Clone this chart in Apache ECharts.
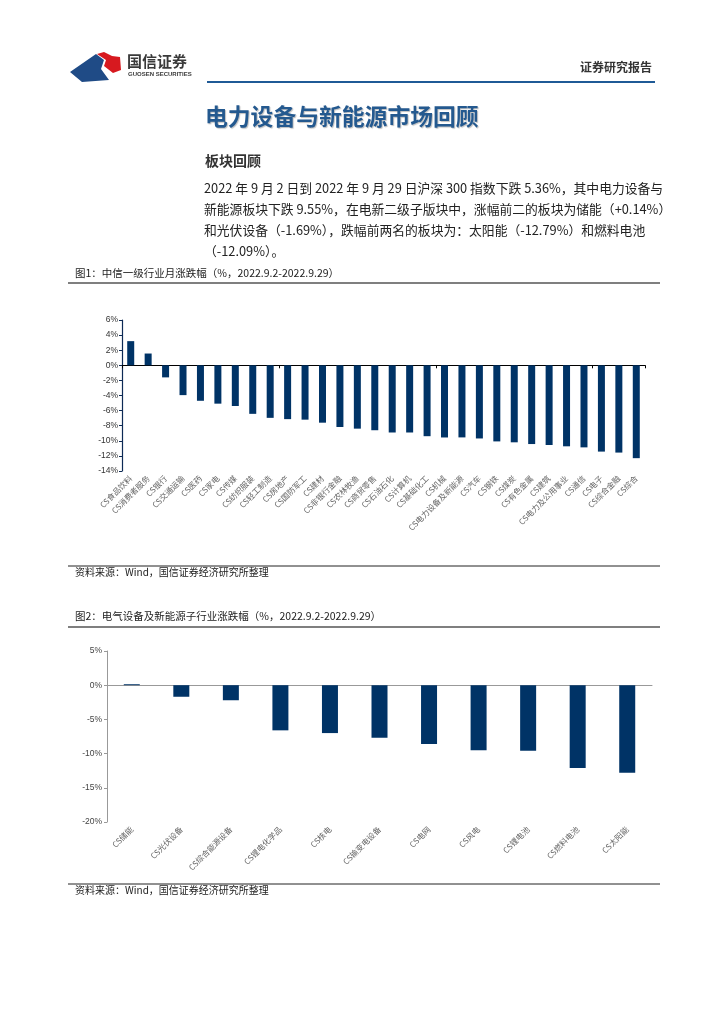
<!DOCTYPE html>
<html><head><meta charset="utf-8">
<script src="https://cdn.jsdelivr.net/npm/echarts@6/dist/echarts.min.js"></script>
<style>html,body{margin:0;padding:0;background:#fff}#c{width:724px;height:1024px}</style>
</head><body><div id="c"></div>
<script>
var cat1 = ['CS食品饮料','CS消费者服务','CS银行','CS交通运输','CS医药','CS家电','CS传媒','CS纺织服装','CS轻工制造','CS房地产','CS国防军工','CS建材','CS非银行金融','CS农林牧渔','CS商贸零售','CS石油石化','CS计算机','CS基础化工','CS机械','CS电力设备及新能源','CS汽车','CS钢铁','CS煤炭','CS有色金属','CS建筑','CS电力及公用事业','CS通信','CS电子','CS综合金融','CS综合'];
var val1 = [3.2,1.56,-1.6,-3.95,-4.7,-5.08,-5.39,-6.43,-6.96,-7.13,-7.2,-7.6,-8.17,-8.39,-8.6,-8.9,-8.9,-9.39,-9.56,-9.55,-9.69,-10.08,-10.2,-10.43,-10.56,-10.73,-10.87,-11.43,-11.56,-12.3];
var cat2 = ['CS储能','CS光伏设备','CS综合能源设备','CS锂电化学品','CS核电','CS输变电设备','CS电网','CS风电','CS锂电池','CS燃料电池','CS太阳能'];
var val2 = [0.14,-1.69,-2.2,-6.6,-7.0,-7.7,-8.6,-9.5,-9.6,-12.09,-12.79];
var ticks1 = {min:-14,max:6,interval:2};
var ticks2 = {min:-20,max:5,interval:5};

var CJK = '"Noto Sans CJK SC", sans-serif';
var chart = echarts.init(document.getElementById('c'), null, {renderer:'canvas'});
var paraLines = [
 '2022 年 9 月 2 日到 2022 年 9 月 29 日沪深 300 指数下跌 5.36%，其中电力设备与',
 '新能源板块下跌 9.55%，在电新二级子版块中，涨幅前二的板块为储能（+0.14%）',
 '和光伏设备（-1.69%），跌幅前两名的板块为：太阳能（-12.79%）和燃料电池',
 '（-12.09%）。'
];
var graphics = [];
// logo
graphics.push({type:'polygon',shape:{points:[[70,72],[96,54],[104,60],[101,69],[109,80],[82,82]]},style:{fill:'#1f4b86'}});
graphics.push({type:'polygon',shape:{points:[[97,54],[104,52],[112,56],[120,57],[121,70],[113,73],[104,66],[106,60]]},style:{fill:'#d7191f'}});
graphics.push({type:'text',left:127,top:54,style:{text:'国信证券',font:'bold 15px '+CJK,fill:'#3a3a3a'}});
graphics.push({type:'text',left:128,top:71,style:{text:'GUOSEN SECURITIES',font:'bold 6px "Liberation Sans", sans-serif',fill:'#3a3a3a'}});
graphics.push({type:'text',left:580,top:61,style:{text:'证券研究报告',font:'bold 12px '+CJK,fill:'#333'}});
graphics.push({type:'line',shape:{x1:207,y1:82,x2:655,y2:82},style:{stroke:'#1f5a96',lineWidth:2}});
// title
graphics.push({type:'text',left:205,top:105,style:{text:'电力设备与新能源市场回顾',font:'bold 22.8px '+CJK,fill:'#24598f',textShadowColor:'rgba(0,0,0,0.25)',textShadowBlur:1,textShadowOffsetX:1,textShadowOffsetY:1}});
graphics.push({type:'text',left:205,top:154,style:{text:'板块回顾',font:'bold 14px '+CJK,fill:'#333'}});
paraLines.forEach(function(t,i){
  graphics.push({type:'text',left:204,top:182+i*21,style:{text:t,font:'12.8px '+CJK,fill:'#222'}});
});
// captions and rules
graphics.push({type:'text',left:75,top:268,style:{text:'图1：中信一级行业月涨跌幅（%，2022.9.2-2022.9.29）',font:'10.5px '+CJK,fill:'#222'}});
graphics.push({type:'line',shape:{x1:68,y1:283,x2:660,y2:283},style:{stroke:'#555',lineWidth:1.5}});
graphics.push({type:'line',shape:{x1:68,y1:566,x2:660,y2:566},style:{stroke:'#222',lineWidth:1}});
graphics.push({type:'text',left:75,top:567,style:{text:'资料来源：Wind，国信证券经济研究所整理',font:'10px '+CJK,fill:'#222'}});
graphics.push({type:'text',left:75,top:611,style:{text:'图2：电气设备及新能源子行业涨跌幅（%，2022.9.2-2022.9.29）',font:'10.5px '+CJK,fill:'#222'}});
graphics.push({type:'line',shape:{x1:68,y1:627,x2:660,y2:627},style:{stroke:'#555',lineWidth:1.5}});
graphics.push({type:'line',shape:{x1:68,y1:884,x2:660,y2:884},style:{stroke:'#222',lineWidth:1}});
graphics.push({type:'text',left:75,top:885,style:{text:'资料来源：Wind，国信证券经济研究所整理',font:'10px '+CJK,fill:'#222'}});

var lblFont = {fontSize:8,color:'#666',fontFamily:CJK};
var yLbl = {fontSize:8.5,color:'#333',fontFamily:'"Liberation Sans", Arial, sans-serif',formatter:'{value}%'};
chart.setOption({
  animation:false,
  graphic:graphics,
  grid:[
    {left:122,top:320,width:523,height:151,containLabel:false},
    {left:107,top:651,width:545,height:171,containLabel:false}
  ],
  xAxis:[
    {gridIndex:0,type:'category',data:cat1,position:'bottom',axisLine:{onZero:false,show:false},axisTick:{show:false},
     axisLabel:Object.assign({rotate:45,interval:0,margin:6},lblFont)},
    {gridIndex:0,type:'category',data:cat1,position:'bottom',axisLine:{onZero:true,lineStyle:{color:'#000',width:1.2}},
     axisTick:{show:true,length:3,lineStyle:{color:'#000'}},axisLabel:{show:false}},
    {gridIndex:1,type:'category',data:cat2,position:'bottom',axisLine:{onZero:false,show:false},axisTick:{show:false},
     axisLabel:Object.assign({rotate:45,interval:0,margin:6},lblFont)},
    {gridIndex:1,type:'category',data:cat2,position:'bottom',axisLine:{onZero:true,lineStyle:{color:'#999',width:1}},
     axisTick:{show:false},axisLabel:{show:false}}
  ],
  yAxis:[
    {gridIndex:0,type:'value',min:ticks1.min,max:ticks1.max,interval:ticks1.interval,
     axisLine:{show:true,lineStyle:{color:'#0d2a55',width:1.2}},axisTick:{show:true,length:3,lineStyle:{color:'#0d2a55'}},
     splitLine:{show:false},axisLabel:Object.assign({margin:4},yLbl)},
    {gridIndex:1,type:'value',min:ticks2.min,max:ticks2.max,interval:ticks2.interval,
     axisLine:{show:true,lineStyle:{color:'#999',width:1}},axisTick:{show:true,length:3,lineStyle:{color:'#999'}},
     splitLine:{show:false},axisLabel:Object.assign({margin:5},yLbl,{color:'#444'})}
  ],
  series:[
    {type:'bar',xAxisIndex:0,yAxisIndex:0,data:val1,barWidth:7,itemStyle:{color:'#003366'}},
    {type:'bar',xAxisIndex:2,yAxisIndex:1,data:val2,barWidth:16,itemStyle:{color:'#003366'}}
  ]
});
</script></body></html>
